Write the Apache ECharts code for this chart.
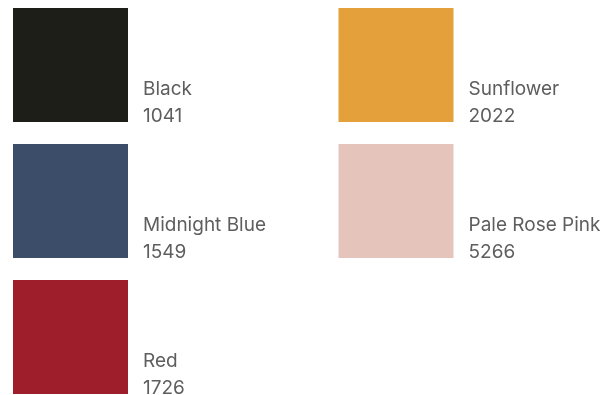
<!DOCTYPE html>
<html>
<head>
<meta charset="utf-8">
<script src="https://cdn.jsdelivr.net/npm/echarts@6/dist/echarts.min.js"></script>
<style>
  html, body { margin: 0; padding: 0; background: #fff; }
  #chart { width: 614px; height: 395px; }
</style>
</head>
<body>
<div id="chart"></div>
<script>
// swatch names, codes, and grid slot (column, row)
var names = ['Black', 'Midnight Blue', 'Red', 'Sunflower', 'Pale Rose Pink'];
var codes = ['1041', '1549', '1726', '2022', '5266'];
var cols = [0, 0, 0, 1, 1];
var rows = [0, 1, 2, 0, 1];
var palette = ['#1e1e19', '#3c4d69', '#9e1f2b', '#e4a03b', '#e5c4bb'];

var chart = echarts.init(document.getElementById('chart'));

var option = {
  animation: false,
  grid: { left: 70.5, top: 65, width: 325.5, height: 272 },
  xAxis: { type: 'value', min: 0, max: 1, show: false },
  yAxis: { type: 'value', min: 0, max: 2, inverse: true, show: false },
  series: [{
    type: 'scatter',
    symbol: 'rect',
    symbolSize: [115, 114],
    itemStyle: { opacity: 1 },
    data: names.map(function (n, i) {
      return {
        name: n,
        value: [cols[i], rows[i]],
        itemStyle: { color: palette[i], opacity: 1 },
        label: { formatter: '{n|' + n + '}\n{n|' + codes[i] + '}' }
      };
    }),
    label: {
      show: true,
      position: [130, 122],
      align: 'left',
      verticalAlign: 'bottom',
      rich: {
        n: {
          fontFamily: 'Inter',
          fontSize: 19,
          lineHeight: 27,
          color: '#5e5e5e'
        }
      }
    },
    emphasis: { disabled: true }
  }]
};

chart.setOption(option);
</script>
</body>
</html>
